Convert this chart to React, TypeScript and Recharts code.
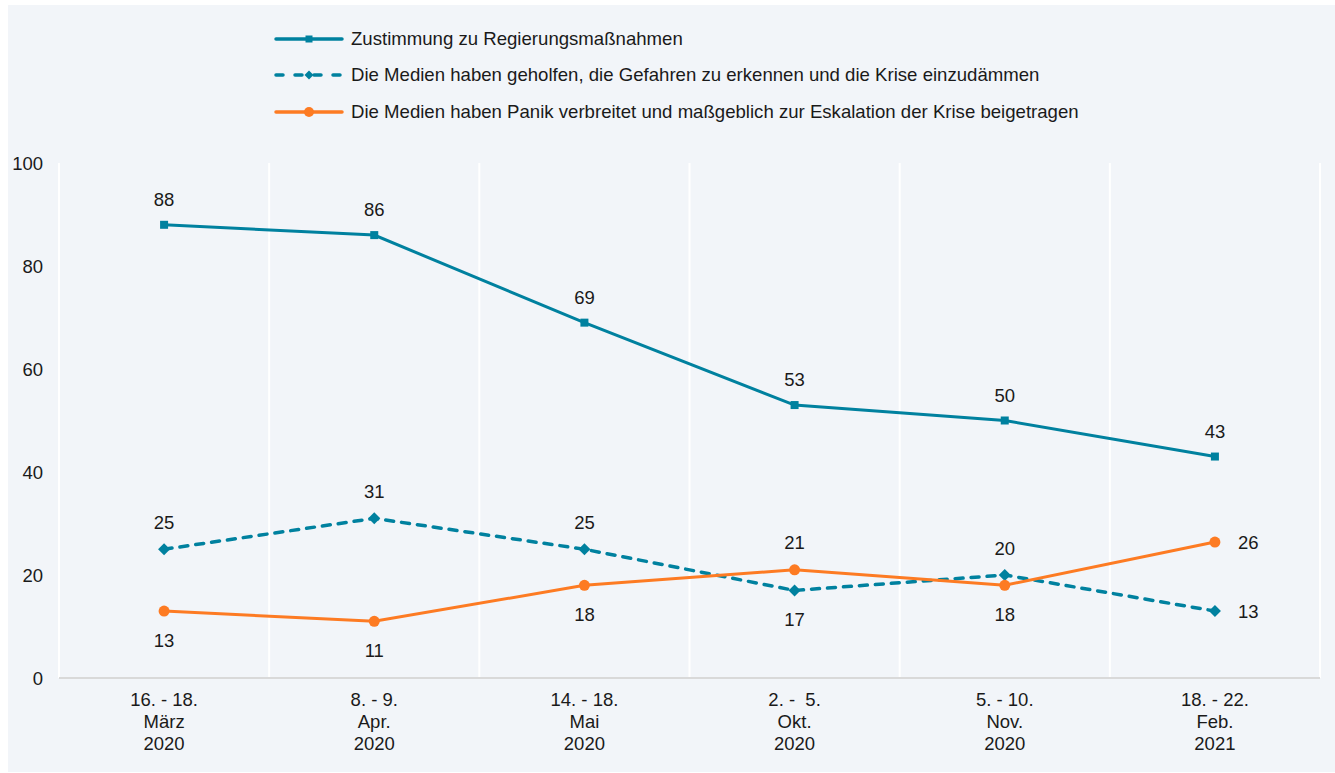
import React from 'react';
import { LineChart, Line, XAxis, YAxis, CartesianGrid, LabelList } from 'recharts';

const categories: string[][] = [
  ['16. - 18.', 'März', '2020'],
  ['8. - 9.', 'Apr.', '2020'],
  ['14. - 18.', 'Mai', '2020'],
  ['2. -  5.', 'Okt.', '2020'],
  ['5. - 10.', 'Nov.', '2020'],
  ['18. - 22.', 'Feb.', '2021'],
];
const zustimmung = [88, 86, 69, 53, 50, 43];
const geholfen = [25, 31, 25, 17, 20, 13];
const panik = [13, 11, 18, 21, 18, 26.4];
const yTicks = [0, 20, 40, 60, 80, 100];
const seriesNames = [
  'Zustimmung zu Regierungsmaßnahmen',
  'Die Medien haben geholfen, die Gefahren zu erkennen und die Krise einzudämmen',
  'Die Medien haben Panik verbreitet und maßgeblich zur Eskalation der Krise beigetragen',
];

const BLUE = '#00819f';
const ORANGE = '#fd7b23';
const TEXT = '#1a1a1a';
const BG = '#f2f5f9';
const FONT = '"Liberation Sans", Arial, sans-serif';
const FS = 18.5;
const DASH = '8 8';
const LEGEND_DASH = '7 12';
const X_DOMAIN = [-0.5, 5.5];
const gridValues = [-0.5, 0.5, 1.5, 2.5, 3.5, 4.5, 5.5];

const data = categories.map((c, i) => ({
  idx: i,
  zustimmung: zustimmung[i],
  geholfen: geholfen[i],
  panik: panik[i],
}));

const zPos = ['top', 'top', 'top', 'top', 'top', 'top'];
const gPos = ['top', 'top', 'top', 'bottom', 'top', 'right'];
const pPos = ['bottom', 'bottom', 'bottom', 'top', 'bottom', 'right'];

const makeLabel = (pos: string[], topOff: number) => (props: any) => {
  const { x, y, value, index } = props;
  const p = pos[index];
  let tx = x;
  let ty = y;
  let anchor: any = 'middle';
  const base = 6.6;
  if (p === 'top') ty = y - topOff + base;
  else if (p === 'bottom') ty = y + 29 + base;
  else {
    tx = x + 23;
    ty = y + base;
    anchor = 'start';
  }
  return (
    <text key={`l-${index}`} x={tx} y={ty} textAnchor={anchor} fontSize={FS} fill={TEXT} fontFamily={FONT}>
      {Math.round(Number(value))}
    </text>
  );
};

const SquareDot = (props: any) => {
  const { cx, cy, index } = props;
  return <rect key={`s-${index}`} x={cx - 4} y={cy - 4} width={8} height={8} fill={BLUE} />;
};
const DiamondDot = (props: any) => {
  const { cx, cy, index } = props;
  return (
    <path key={`d-${index}`} d={`M${cx},${cy - 6} L${cx + 6},${cy} L${cx},${cy + 6} L${cx - 6},${cy} Z`} fill={BLUE} />
  );
};
const CircleDot = (props: any) => {
  const { cx, cy, index } = props;
  return <circle key={`c-${index}`} cx={cx} cy={cy} r={5.5} fill={ORANGE} />;
};

const XTick = (props: any) => {
  const { x, y, payload } = props;
  const lines = categories[payload.value] || [];
  return (
    <g>
      {lines.map((l, i) => (
        <text
          key={i}
          x={x}
          y={y + 28 + i * 22}
          textAnchor="middle"
          fontSize={FS}
          fill={TEXT}
          fontFamily={FONT}
          style={{ whiteSpace: 'pre' }}
        >
          {l}
        </text>
      ))}
    </g>
  );
};

const gridGen = (args: any) => {
  const xAxis = args && args.xAxis;
  const offset = args && args.offset;
  const s = xAxis && xAxis.scale;
  if (typeof s === 'function') return gridValues.map((v) => s(v));
  if (s && typeof s.map === 'function') {
    try {
      return gridValues.map((v) => s.map(v));
    } catch (e) {}
  }
  return gridValues.map(
    (v) => offset.left + ((v - X_DOMAIN[0]) / (X_DOMAIN[1] - X_DOMAIN[0])) * offset.width
  );
};

const legendMarkers = [
  (cx: number, cy: number) => <rect x={cx - 3.5} y={cy - 3.5} width={7} height={7} fill={BLUE} />,
  (cx: number, cy: number) => (
    <path d={`M${cx},${cy - 4.5} L${cx + 4.5},${cy} L${cx},${cy + 4.5} L${cx - 4.5},${cy} Z`} fill={BLUE} />
  ),
  (cx: number, cy: number) => <circle cx={cx} cy={cy} r={5} fill={ORANGE} />,
];
const legendColors = [BLUE, BLUE, ORANGE];
const legendDash = [undefined, LEGEND_DASH, undefined];
const legendRows = [34, 70, 107];

export default function App() {
  return (
    <div
      style={{
        position: 'absolute',
        left: 8,
        top: 5,
        width: 1327,
        height: 767,
        background: BG,
        fontFamily: FONT,
      }}
    >
      {seriesNames.map((name, i) => (
        <div
          key={name}
          style={{
            position: 'absolute',
            left: 266,
            top: legendRows[i] - 11,
            height: 22,
            display: 'flex',
            alignItems: 'center',
            whiteSpace: 'nowrap',
            zIndex: 2,
          }}
        >
          <svg width={77} height={22} style={{ display: 'block' }}>
            <line
              x1={2}
              y1={11}
              x2={68}
              y2={11}
              stroke={legendColors[i]}
              strokeWidth={3.5}
              strokeLinecap="round"
              strokeDasharray={legendDash[i]}
            />
            {legendMarkers[i](35, 11)}
          </svg>
          <span style={{ fontSize: 18.6, color: TEXT, lineHeight: '22px' }}>{name}</span>
        </div>
      ))}
      <div style={{ position: 'absolute', left: 0, top: 0 }}>
        <LineChart
          width={1327}
          height={767}
          data={data}
          margin={{ top: 158, right: 15, bottom: 34, left: 0 }}
        >
          <CartesianGrid
            horizontal={false}
            stroke="#ffffff"
            strokeWidth={2}
            verticalCoordinatesGenerator={gridGen}
          />
          <XAxis
            type="number"
            dataKey="idx"
            domain={X_DOMAIN}
            ticks={[0, 1, 2, 3, 4, 5]}
            interval={0}
            axisLine={{ stroke: '#d9d9d9', strokeWidth: 2 }}
            tickLine={false}
            tickSize={0}
            tickMargin={0}
            height={60}
            tick={<XTick />}
          />
          <YAxis
            type="number"
            domain={[0, 100]}
            ticks={yTicks}
            axisLine={false}
            tickLine={false}
            tickSize={0}
            tickMargin={16}
            width={51}
            tick={{ fontSize: FS, fill: TEXT, fontFamily: FONT }}
          />
          <Line
            dataKey="zustimmung"
            stroke={BLUE}
            strokeWidth={3}
            dot={SquareDot}
            activeDot={false}
            isAnimationActive={false}
          >
            <LabelList dataKey="zustimmung" content={makeLabel(zPos, 25.5)} />
          </Line>
          <Line
            dataKey="geholfen"
            stroke={BLUE}
            strokeWidth={3.5}
            strokeDasharray={DASH}
            strokeLinecap="round"
            dot={DiamondDot}
            activeDot={false}
            isAnimationActive={false}
          >
            <LabelList dataKey="geholfen" content={makeLabel(gPos, 27)} />
          </Line>
          <Line
            dataKey="panik"
            stroke={ORANGE}
            strokeWidth={3}
            dot={CircleDot}
            activeDot={false}
            isAnimationActive={false}
          >
            <LabelList dataKey="panik" content={makeLabel(pPos, 27)} />
          </Line>
        </LineChart>
      </div>
    </div>
  );
}
